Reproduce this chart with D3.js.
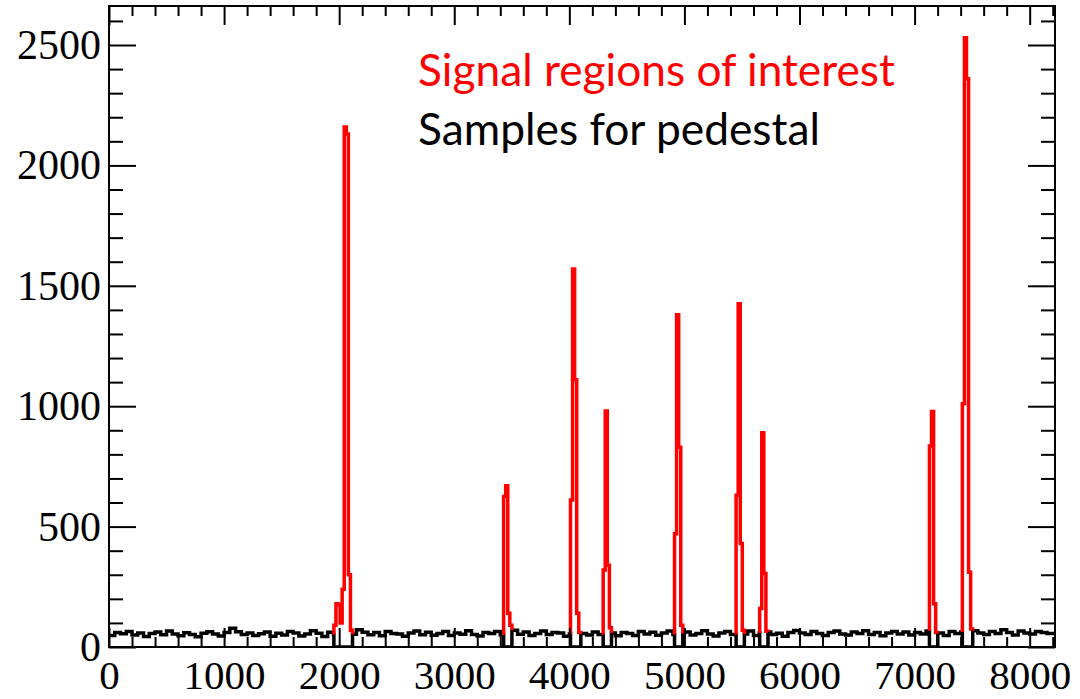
<!DOCTYPE html>
<html>
<head>
<meta charset="utf-8">
<script src="https://cdn.jsdelivr.net/npm/d3@7"></script>
<style>
  html, body { margin: 0; padding: 0; background: #fff; }
  svg { display: block; }
</style>
</head>
<body>
<svg id="chart" width="1080" height="699"></svg>
<script>
// Pedestal samples, 50-sample bins from 0 to 8200
const pedBin = 50;
const pedestal = [
  48,60,55,64,50,58,44,56,62,51,
  66,54,47,59,52,43,57,63,54,46,
  60,78,63,52,58,48,55,62,45,57,
  50,64,58,46,54,68,57,44,61,52,
  58,65,53,72,61,51,60,47,64,56,
  54,45,58,66,51,61,49,56,64,48,
  58,53,67,52,46,60,56,64,50,58,
  70,53,62,48,56,66,52,60,58,45,
  54,64,56,50,62,52,68,58,47,60,
  56,48,64,54,61,49,58,66,52,56,
  62,50,56,68,54,46,58,64,52,60,
  54,66,48,58,62,52,57,45,60,69,
  58,52,64,56,48,60,66,54,50,62,
  56,68,52,60,47,58,64,54,62,50,
  60,54,66,52,58,48,64,56,62,54,
  68,58,52,64,56,72,60,50,66,58,
  54,64,60,56
];

// Signal regions of interest: first sample and 18-sample bin contents
const sigBin = 18;
const signalStarts = [1954, 3429, 4010, 4294, 4914, 5449, 5654, 7129, 7415];
const signalValues = [
  [90, 180, 175, 100, 240, 2160, 2130, 300, 70],
  [625, 670, 140, 90],
  [610, 1570, 1110, 140, 60],
  [320, 980, 340, 80],
  [470, 1380, 830, 90],
  [630, 1425, 430, 70],
  [160, 890, 305, 65],
  [835, 978, 180, 60],
  [1010, 2530, 2360, 310, 75]
];

const xMajor = [0, 1000, 2000, 3000, 4000, 5000, 6000, 7000, 8000];
const yMajor = [0, 500, 1000, 1500, 2000, 2500];
const legendLabels = ["Signal regions of interest", "Samples for pedestal"];

const svg = d3.select("#chart");
const frame = { left: 109, right: 1055, top: 6, bottom: 647 };
const xMax = 8220, yMax = 2662;

const x = d3.scaleLinear().domain([0, xMax]).range([frame.left, frame.right]);
const y = d3.scaleLinear().domain([0, yMax]).range([frame.bottom, frame.top]);

const regions = signalStarts.map((s, i) => ({
  start: s,
  end: s + signalValues[i].length * sigBin,
  values: signalValues[i]
}));
const pedAt = v => pedestal[Math.min(pedestal.length - 1, Math.floor(v / pedBin))];

// Black pedestal trace: zero inside signal regions
const edges = new Set();
for (let i = 0; i <= pedestal.length; i++) edges.add(Math.min(i * pedBin, xMax));
regions.forEach(r => { edges.add(r.start); edges.add(r.end); });
const sortedEdges = Array.from(edges).filter(e => e <= xMax).sort((a, b) => a - b);
const pedPts = [];
for (let i = 0; i < sortedEdges.length - 1; i++) {
  const a = sortedEdges[i], b = sortedEdges[i + 1];
  const mid = (a + b) / 2;
  const inside = regions.some(r => mid > r.start && mid < r.end);
  pedPts.push({ x: a, v: inside ? 0 : pedAt(mid) });
}
pedPts.push({ x: xMax, v: pedPts[pedPts.length - 1].v });

const stepLine = d3.line().x(d => x(d.x)).y(d => y(d.v)).curve(d3.curveStepAfter);

svg.append("clipPath").attr("id", "frameClip")
  .append("rect")
  .attr("x", frame.left).attr("y", frame.top)
  .attr("width", frame.right - frame.left).attr("height", frame.bottom - frame.top);

const plot = svg.append("g").attr("clip-path", "url(#frameClip)");

plot.append("path")
  .datum(pedPts)
  .attr("d", stepLine)
  .attr("fill", "none")
  .attr("stroke", "#000")
  .attr("stroke-width", 3.5)
  .attr("stroke-linejoin", "miter");

// Red signal traces, starting and ending at the pedestal level
regions.forEach(r => {
  const pts = [{ x: r.start, v: pedAt(r.start - 1) }];
  r.values.forEach((v, j) => pts.push({ x: r.start + j * sigBin, v }));
  pts.push({ x: r.end, v: pedAt(r.end + 1) });
  plot.append("path")
    .datum(pts)
    .attr("d", stepLine)
    .attr("fill", "none")
    .attr("stroke", "#ff0000")
    .attr("stroke-width", 3.5)
    .attr("stroke-linejoin", "miter");
});

// Ticks on all four sides of the frame
const xMinor = d3.range(0, xMax + 1, 200).filter(v => v % 1000 !== 0);
const yMinor = d3.range(0, yMax + 1, 100).filter(v => v % 500 !== 0);
const tickStyle = g => {
  g.select(".domain").remove();
  g.selectAll(".tick line").attr("stroke", "#000").attr("stroke-width", 2);
};
const noLabel = () => "";

svg.append("g").attr("transform", `translate(0,${frame.bottom})`)
  .call(d3.axisBottom(x).tickValues(xMajor).tickSize(-19).tickFormat(noLabel)).call(tickStyle);
svg.append("g").attr("transform", `translate(0,${frame.bottom})`)
  .call(d3.axisBottom(x).tickValues(xMinor).tickSize(-10).tickFormat(noLabel)).call(tickStyle);
svg.append("g").attr("transform", `translate(0,${frame.top})`)
  .call(d3.axisTop(x).tickValues(xMajor).tickSize(-19).tickFormat(noLabel)).call(tickStyle);
svg.append("g").attr("transform", `translate(0,${frame.top})`)
  .call(d3.axisTop(x).tickValues(xMinor).tickSize(-10).tickFormat(noLabel)).call(tickStyle);

svg.append("g").attr("transform", `translate(${frame.left},0)`)
  .call(d3.axisLeft(y).tickValues(yMajor).tickSize(-27).tickFormat(noLabel)).call(tickStyle);
svg.append("g").attr("transform", `translate(${frame.left},0)`)
  .call(d3.axisLeft(y).tickValues(yMinor).tickSize(-14).tickFormat(noLabel)).call(tickStyle);
svg.append("g").attr("transform", `translate(${frame.right},0)`)
  .call(d3.axisRight(y).tickValues(yMajor).tickSize(-27).tickFormat(noLabel)).call(tickStyle);
svg.append("g").attr("transform", `translate(${frame.right},0)`)
  .call(d3.axisRight(y).tickValues(yMinor).tickSize(-14).tickFormat(noLabel)).call(tickStyle);

// Axis labels
const labelFont = "'Liberation Serif', 'Times New Roman', serif";
svg.append("g").attr("transform", `translate(0,${frame.bottom})`)
  .call(d3.axisBottom(x).tickValues(xMajor).tickSize(0).tickPadding(13).tickFormat(d3.format("d")))
  .call(g => g.select(".domain").remove())
  .selectAll("text").attr("font-family", labelFont).attr("font-size", 41).attr("fill", "#000");
svg.append("g").attr("transform", `translate(${frame.left},0)`)
  .call(d3.axisLeft(y).tickValues(yMajor).tickSize(0).tickPadding(8).tickFormat(d3.format("d")))
  .call(g => g.select(".domain").remove())
  .selectAll("text").attr("font-family", labelFont).attr("font-size", 42).attr("fill", "#000");

// Frame
svg.append("rect")
  .attr("x", frame.left).attr("y", frame.top)
  .attr("width", frame.right - frame.left).attr("height", frame.bottom - frame.top)
  .attr("fill", "none").attr("stroke", "#000").attr("stroke-width", 2);

// Legend text
const legendFont = "Lato, 'Open Sans', sans-serif";
const legend = svg.append("g");
const t1 = legend.append("text")
  .attr("x", 418).attr("y", 86)
  .attr("font-family", legendFont).attr("font-size", 36)
  .attr("fill", "#ff0000").text(legendLabels[0]);
const t2 = legend.append("text")
  .attr("x", 418).attr("y", 145)
  .attr("font-family", legendFont).attr("font-size", 36)
  .attr("fill", "#000").text(legendLabels[1]);
// size the legend lines to their set widths
[[t1, 477], [t2, 402]].forEach(([t, w]) => {
  const cur = t.node().getComputedTextLength();
  if (cur > 0) t.attr("font-size", 36 * w / cur);
});
</script>
</body>
</html>
